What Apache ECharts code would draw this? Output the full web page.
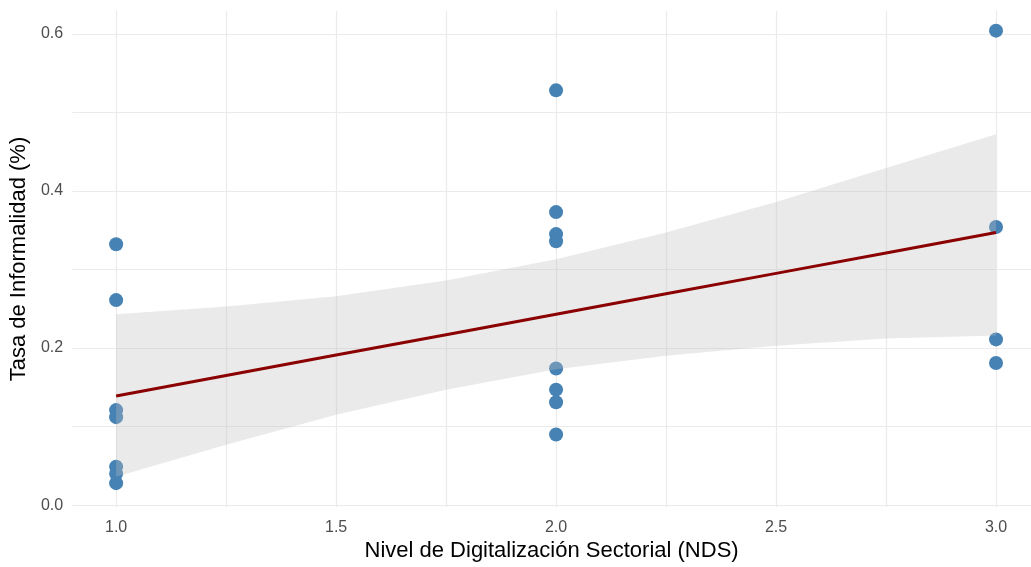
<!DOCTYPE html>
<html>
<head>
<meta charset="utf-8">
<script src="https://cdn.jsdelivr.net/npm/echarts@6/dist/echarts.min.js"></script>
<style>
  html, body { margin: 0; padding: 0; background: #ffffff; }
  #chart { width: 1031px; height: 567px; }
</style>
</head>
<body>
<div id="chart"></div>
<script>
// Observaciones: nivel de digitalización sectorial y tasa de informalidad
const puntosNDS  = [1, 1, 1, 1, 1, 1, 1,
                    2, 2, 2, 2, 2, 2, 2, 2,
                    3, 3, 3, 3];
const puntosTasa = [0.332, 0.261, 0.121, 0.112, 0.049, 0.040, 0.028,
                    0.528, 0.373, 0.345, 0.336, 0.174, 0.147, 0.131, 0.090,
                    0.604, 0.354, 0.211, 0.181];

// Recta de ajuste lineal y banda de confianza
const ajusteX  = [1, 1.25, 1.5, 1.75, 2, 2.25, 2.5, 2.75, 3];
const ajusteY  = [0.139, 0.165, 0.191, 0.217, 0.243, 0.269, 0.295, 0.321, 0.347];
const bandaInf = [0.036, 0.077, 0.115, 0.147, 0.173, 0.190, 0.203, 0.212, 0.216];
const bandaSup = [0.243, 0.253, 0.266, 0.286, 0.313, 0.347, 0.386, 0.429, 0.472];

// Marcas de los ejes
const ticksX   = [1, 1.25, 1.5, 1.75, 2, 2.25, 2.5, 2.75, 3];
const etiqX    = [1, 1.5, 2, 2.5, 3];
const ticksY   = [0, 0.1, 0.2, 0.3, 0.4, 0.5, 0.6];
const etiqY    = [0, 0.2, 0.4, 0.6];

const chart = echarts.init(document.getElementById('chart'), null, { renderer: 'canvas' });

const gridLine = { show: true, lineStyle: { color: '#ebebeb', width: 1.2 } };
const labelStyle = { color: '#4d4d4d', fontSize: 16, fontFamily: 'Liberation Sans, Arial, sans-serif' };
const titleStyle = { color: '#000000', fontSize: 22, fontFamily: 'Liberation Sans, Arial, sans-serif' };

chart.setOption({
  animation: false,
  backgroundColor: '#ffffff',
  grid: { left: 71, right: 0, top: 11, bottom: 55, containLabel: false },
  xAxis: {
    type: 'value',
    min: 0.9,
    max: 3.0795,
    name: 'Nivel de Digitalización Sectorial (NDS)',
    nameLocation: 'middle',
    nameGap: 32,
    nameTextStyle: titleStyle,
    axisLine: { show: false },
    axisTick: { show: false, customValues: ticksX },
    splitLine: gridLine,
    axisLabel: Object.assign({
      customValues: etiqX,
      margin: 12,
      formatter: v => v.toFixed(1)
    }, labelStyle)
  },
  yAxis: {
    type: 'value',
    min: -0.0025,
    max: 0.629,
    name: 'Tasa de Informalidad (%)',
    nameLocation: 'middle',
    nameRotate: 90,
    nameGap: 36,
    nameTextStyle: titleStyle,
    axisLine: { show: false },
    axisTick: { show: false, customValues: ticksY },
    splitLine: gridLine,
    axisLabel: Object.assign({
      customValues: etiqY,
      margin: 9,
      formatter: v => v.toFixed(1)
    }, labelStyle)
  },
  series: [
    {
      name: 'Sectores',
      type: 'scatter',
      z: 2,
      symbol: 'circle',
      symbolSize: 14,
      itemStyle: { color: '#4682b4', opacity: 1 },
      data: puntosNDS.map((x, i) => [x, puntosTasa[i]])
    },
    {
      name: 'Intervalo de confianza',
      type: 'custom',
      z: 3,
      silent: true,
      data: [[ajusteX[0], ajusteY[0]]],
      renderItem: function (params, api) {
        const sup = ajusteX.map((x, i) => api.coord([x, bandaSup[i]]));
        const inf = ajusteX.map((x, i) => api.coord([x, bandaInf[i]])).reverse();
        return {
          type: 'polygon',
          shape: { points: sup.concat(inf), smooth: 0 },
          style: { fill: 'rgba(190,190,190,0.32)', stroke: null }
        };
      }
    },
    {
      name: 'Ajuste lineal',
      type: 'line',
      z: 4,
      showSymbol: false,
      silent: true,
      lineStyle: { color: '#8b0000', width: 3 },
      data: ajusteX.map((x, i) => [x, ajusteY[i]])
    }
  ]
});
</script>
</body>
</html>
